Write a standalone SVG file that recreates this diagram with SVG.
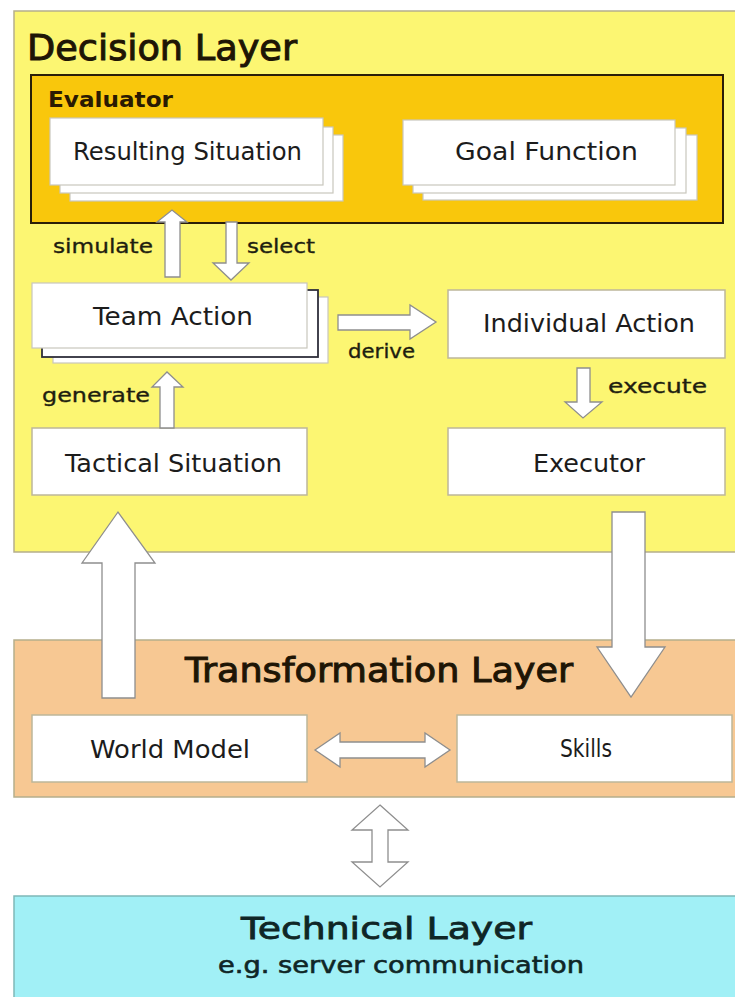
<svg xmlns="http://www.w3.org/2000/svg" width="735" height="997" viewBox="0 0 735 997">
<style>
text{font-family:"DejaVu Sans","Liberation Sans",sans-serif;fill:#1c1c1c}
.layer{stroke:#b5ae8c;stroke-width:1.5}
.card{fill:#ffffff;stroke:#c9c6bd;stroke-width:1.2}
.cardd{fill:#ffffff;stroke:#2e2e3a;stroke-width:1.8}
.node{fill:#ffffff;stroke:#bdb79a;stroke-width:1.5}
.arr{fill:#ffffff;stroke:#8e8e8e;stroke-width:1.3;stroke-linejoin:miter}
.lbl{font-size:20px;fill:#1e1e10;stroke:#1e1e10;stroke-width:0.35}
.nt{font-size:25px}
.ttl{font-size:36px;fill:#1e1505;stroke:#1e1505;stroke-width:1}
</style>
<rect width="735" height="997" fill="#ffffff"/>
<g id="decision-layer">
<rect class="layer" x="14" y="11" width="730" height="541" fill="#fcf672"/>
<text class="ttl" x="27" y="60" textLength="270" lengthAdjust="spacingAndGlyphs">Decision Layer</text>
</g>
<g id="evaluator">
<rect x="31" y="75" width="692" height="148" fill="#f9c70c" stroke="#2a1e08" stroke-width="2"/>
<text x="48" y="107" font-size="22" font-weight="bold" textLength="125" lengthAdjust="spacingAndGlyphs" style="fill:#2a1a02">Evaluator</text>
</g>
<g id="resulting-situation">
<rect class="card" x="70" y="135" width="273" height="66"/>
<rect class="card" x="60" y="127" width="273" height="66"/>
<rect class="card" x="50" y="118" width="273" height="67"/>
<text class="nt" x="73" y="160" textLength="229" lengthAdjust="spacingAndGlyphs">Resulting Situation</text>
</g>
<g id="goal-function">
<rect class="card" x="423" y="135" width="274" height="65"/>
<rect class="card" x="413" y="128" width="273" height="65"/>
<rect class="card" x="403" y="120" width="272" height="65"/>
<text class="nt" x="455" y="160" textLength="183" lengthAdjust="spacingAndGlyphs">Goal Function</text>
</g>
<g id="team-action">
<rect class="card" x="53" y="297" width="275" height="66"/>
<rect class="cardd" x="42" y="290" width="276" height="67"/>
<rect class="card" x="32" y="283" width="275" height="65"/>
<text class="nt" x="93" y="325" textLength="160" lengthAdjust="spacingAndGlyphs">Team Action</text>
</g>
<g id="individual-action">
<rect class="node" x="448" y="290" width="277" height="68"/>
<text class="nt" x="483" y="332" textLength="212" lengthAdjust="spacingAndGlyphs">Individual Action</text>
</g>
<g id="tactical-situation">
<rect class="node" x="32" y="428" width="275" height="67"/>
<text class="nt" x="65" y="472" textLength="217" lengthAdjust="spacingAndGlyphs">Tactical Situation</text>
</g>
<g id="executor">
<rect class="node" x="448" y="428" width="277" height="67"/>
<text class="nt" x="533" y="472" textLength="112" lengthAdjust="spacingAndGlyphs">Executor</text>
</g>
<g id="transformation-layer">
<rect class="layer" x="14" y="640" width="730" height="157" fill="#f7c893"/>
<text class="ttl" x="185" y="682" style="font-size:34px" textLength="388" lengthAdjust="spacingAndGlyphs">Transformation Layer</text>
</g>
<g id="world-model">
<rect class="node" x="32" y="715" width="275" height="67" stroke="#d8b58e"/>
<text class="nt" x="90" y="758" textLength="160" lengthAdjust="spacingAndGlyphs">World Model</text>
</g>
<g id="skills">
<rect class="node" x="457" y="715" width="275" height="67"/>
<text class="nt" x="560" y="757" textLength="52" lengthAdjust="spacingAndGlyphs">Skills</text>
</g>
<g id="technical-layer">
<rect x="14" y="896" width="730" height="110" fill="#a1f0f6" stroke="#7fb8b8" stroke-width="1.5"/>
<text x="241" y="939" style="font-size:31px;fill:#0f2626;stroke:#0f2626;stroke-width:0.8" textLength="291" lengthAdjust="spacingAndGlyphs">Technical Layer</text>
<text x="218" y="973" style="font-size:23px;fill:#0f2626;stroke:#0f2626;stroke-width:0.6" textLength="366" lengthAdjust="spacingAndGlyphs">e.g. server communication</text>
</g>
<g id="connectors">
<polygon class="arr" points="165,277 165,222 157,222 172,210 187,222 180,222 180,277"/>
<polygon class="arr" points="226,222 237,222 237,263 249,263 231,280 213,263 226,263"/>
<polygon class="arr" points="338,315 410,315 410,305 436,322 410,339 410,330 338,330"/>
<polygon class="arr" points="577,368 590,368 590,402 602,402 583,418 565,402 577,402"/>
<polygon class="arr" points="160,428 160,387 152,387 167,372 183,387 174,387 174,428"/>
<polygon class="arr" points="102,698 102,563 82,563 118,512 155,563 135,563 135,698"/>
<polygon class="arr" points="612,512 645,512 645,647 665,647 631,697 597,647 612,647"/>
<polygon class="arr" points="315,750 340,733 340,742 425,742 425,733 450,750 425,767 425,758 340,758 340,767"/>
<polygon class="arr" points="380,805 408,830 388,830 388,862 408,862 380,887 352,862 372,862 372,830 352,830"/>
<text class="lbl" x="53" y="253" textLength="100" lengthAdjust="spacingAndGlyphs">simulate</text>
<text class="lbl" x="247" y="253" textLength="68" lengthAdjust="spacingAndGlyphs">select</text>
<text class="lbl" x="348" y="358" textLength="67" lengthAdjust="spacingAndGlyphs">derive</text>
<text class="lbl" x="608" y="393" textLength="99" lengthAdjust="spacingAndGlyphs">execute</text>
<text class="lbl" x="42" y="402" textLength="108" lengthAdjust="spacingAndGlyphs">generate</text>
</g>
</svg>
